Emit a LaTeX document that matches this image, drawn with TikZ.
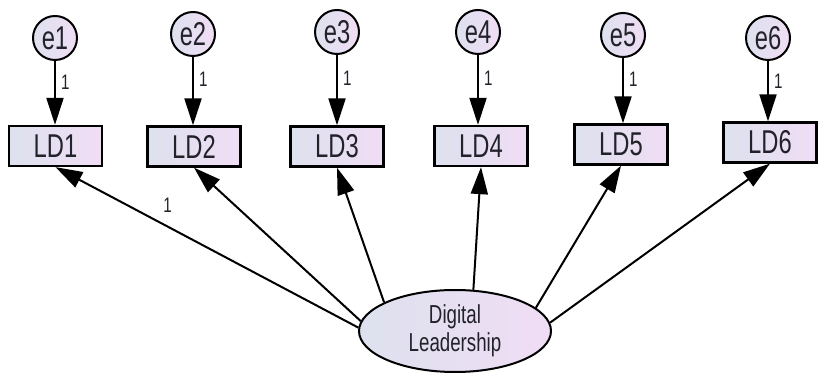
\documentclass[tikz,border=0pt]{standalone}
\usepackage{fontspec}
\setmainfont{Liberation Sans}
\newfontfamily\amosfont[FakeStretch=0.72]{Liberation Sans}
\usetikzlibrary{arrows.meta,shapes.geometric}

\definecolor{fillL}{RGB}{221,225,238}
\definecolor{fillR}{RGB}{240,221,245}
\definecolor{ink}{RGB}{34,34,42}

\begin{document}
\begin{tikzpicture}[x=1pt,y=1pt,
  obsbox/.style={draw=black, line width=2.3pt, left color=fillL, right color=fillR,
    minimum width=93pt, minimum height=40pt, inner sep=0pt, text=ink,
    font=\amosfont\fontsize{33}{35}\selectfont},
  errcirc/.style={circle, draw=black, line width=2pt, left color=fillL, right color=fillR,
    minimum size=44pt, inner sep=0pt, text=ink,
    font=\amosfont\fontsize{33}{35}\selectfont},
  latent/.style={ellipse, draw=black, line width=2pt, left color=fillL, right color=fillR,
    minimum width=192pt, minimum height=82pt, inner sep=0pt, text=ink, align=center,
    font=\amosfont\fontsize{26}{28}\selectfont},
  regpath/.style={line width=2pt, -{Triangle[length=27pt,width=17pt]}},
  weight/.style={font=\amosfont\fontsize{21}{21}\selectfont, text=ink, inner sep=0pt}
]
\useasboundingbox (0,0) rectangle (818,374);

% observed indicators
\node[obsbox] (LD1) at (55.5,228) {LD1};
\node[obsbox] (LD2) at (194,227.5) {LD2};
\node[obsbox] (LD3) at (337,227.5) {LD3};
\node[obsbox] (LD4) at (481,228) {LD4};
\node[obsbox] (LD5) at (621,229.5) {LD5};
\node[obsbox] (LD6) at (770,231.5) {LD6};

% error terms
\node[errcirc] (e1) at (55,336) {e1};
\node[errcirc] (e2) at (193,340) {e2};
\node[errcirc] (e3) at (337,342) {e3};
\node[errcirc] (e4) at (478,342) {e4};
\node[errcirc] (e5) at (623,339) {e5};
\node[errcirc] (e6) at (768,336) {e6};

% latent factor
\node[latent] (DL) at (455,43) {Digital\\Leadership};

% error paths, fixed at 1
\foreach \k in {1,...,6}{
  \draw[regpath] (e\k.south) -- node[weight, pos=0.33, anchor=west, xshift=5pt] {1}
    (e\k.south |- LD\k.north);
}

% factor loadings
\draw[regpath] (DL.178) -- node[weight, pos=0.63, yshift=21pt] {1} (LD1.south);
\draw[regpath] (DL.174) -- (LD2.south);
\draw[regpath] (DL.158) -- (LD3.south);
\draw[regpath] (DL.66) -- (LD4.south);
\draw[regpath] (DL.16) -- (LD5.south);
\draw[regpath] (DL.5) -- (LD6.south);
\end{tikzpicture}
\end{document}
